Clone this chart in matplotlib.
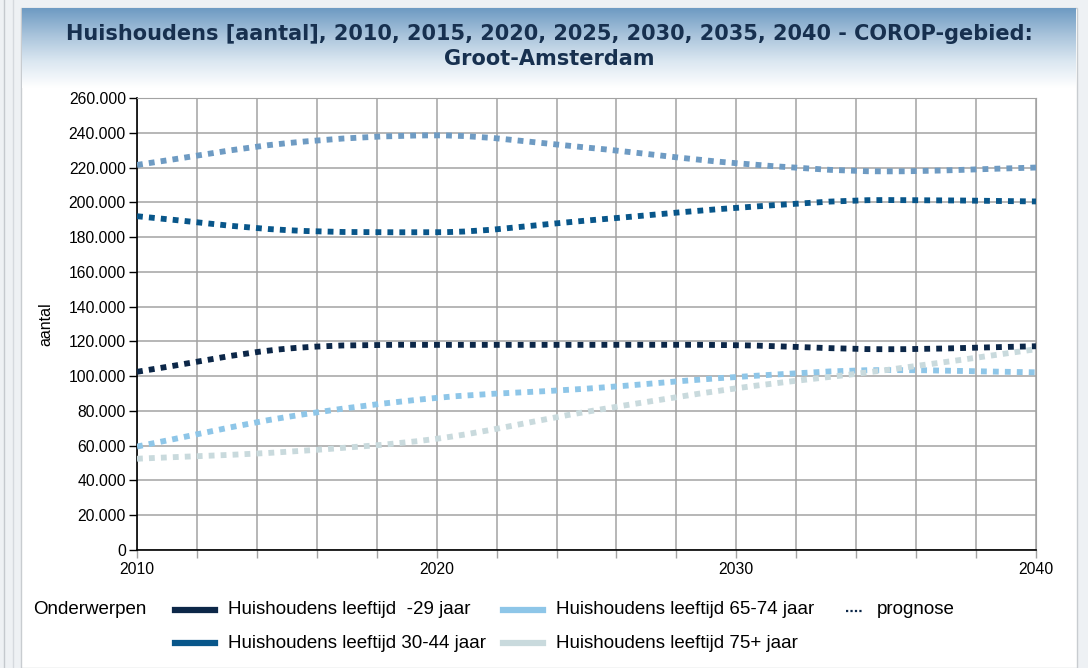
import matplotlib.pyplot as plt
import numpy as np
from matplotlib.path import Path
from matplotlib.patches import PathPatch, Rectangle
from matplotlib.lines import Line2D
from matplotlib.colors import LinearSegmentedColormap

# data
years = [2010, 2015, 2020, 2025, 2030, 2035, 2040]
hh_45_64 = [221500, 234000, 238500, 231500, 222500, 217800, 220000]
hh_30_44 = [192000, 184000, 182800, 189500, 196800, 201300, 200500]
hh_tm_29 = [102500, 115800, 118000, 118000, 117800, 115500, 117200]
hh_65_74 = [59500, 76500, 87500, 92800, 99500, 103500, 102200]
hh_75plus = [52500, 56500, 64000, 79500, 93000, 103500, 115500]

series = [
    (hh_45_64, '#6e9bc3'),
    (hh_30_44, '#08568a'),
    (hh_tm_29, '#0c2748'),
    (hh_65_74, '#8ec6e8'),
    (hh_75plus, '#c9dadd'),
]

legend_items = [
    ('Huishoudens leeftijd  -29 jaar', '#0c2748'),
    ('Huishoudens leeftijd 30-44 jaar', '#08568a'),
    ('Huishoudens leeftijd 65-74 jaar', '#8ec6e8'),
    ('Huishoudens leeftijd 75+ jaar', '#c9dadd'),
]

title = ('Huishoudens [aantal], 2010, 2015, 2020, 2025, 2030, 2035, 2040 - COROP-gebied:\n'
         'Groot-Amsterdam')


def smooth_path(x, y):
    # bezier path through the points (monotone tangents)
    x = np.asarray(x, float)
    y = np.asarray(y, float)
    d = np.diff(y) / np.diff(x)
    m = np.zeros_like(y)
    m[0], m[-1] = d[0], d[-1]
    for i in range(1, len(y) - 1):
        if d[i - 1] * d[i] > 0:
            m[i] = (d[i - 1] + d[i]) / 2
    verts = [(x[0], y[0])]
    codes = [Path.MOVETO]
    for i in range(len(x) - 1):
        h = x[i + 1] - x[i]
        verts += [(x[i] + h / 3, y[i] + m[i] * h / 3),
                  (x[i + 1] - h / 3, y[i + 1] - m[i + 1] * h / 3),
                  (x[i + 1], y[i + 1])]
        codes += [Path.CURVE4] * 3
    return Path(verts, codes)


plt.rcParams['font.family'] = ['Liberation Sans', 'DejaVu Sans']

W, H = 1088, 668
fig = plt.figure(figsize=(W / 100, H / 100), dpi=100)
fig.patch.set_facecolor('#eef1f4')

# white panel + header gradient
fig.add_artist(Rectangle((21 / W, 0), (1077 - 21) / W, 1 - 8 / H, transform=fig.transFigure,
                         facecolor='white', edgecolor='#c8ccd0', lw=1, zorder=0))
fig.add_artist(Line2D([4 / W, 4 / W], [0, 1], transform=fig.transFigure, color='#c5c9ce', lw=1))
fig.add_artist(Line2D([13 / W, 13 / W], [0, 1], transform=fig.transFigure, color='#d5d9de', lw=1))
grad = np.linspace(0, 1, 100).reshape(-1, 1)
gax = fig.add_axes([22 / W, 1 - 88 / H, (1076 - 22) / W, 80 / H], zorder=0)
cmap = LinearSegmentedColormap.from_list('hdr', ['#ffffff', '#dbe7f1', '#a8c3db', '#6e9bc3'])
gax.imshow(grad, cmap=cmap, aspect='auto', origin='lower', extent=[0, 1, 0, 1])
gax.axis('off')
fig.text(0.505, 1 - 46.5 / H, title, ha='center', va='center', fontsize=15,
         fontweight='bold', color='#17304f', family='DejaVu Sans', linespacing=1.3,
         zorder=5)

ax = fig.add_axes([137 / W, 1 - 550 / H, (1036 - 137) / W, (550 - 98) / H], zorder=2)
ax.set_facecolor('white')
for vals, col in series:
    ax.add_patch(PathPatch(smooth_path(years, vals), facecolor='none', edgecolor=col,
                           lw=4.2, linestyle=(0, (1, 1.05)), capstyle='butt', zorder=3))

ax.set_xlim(2010, 2040)
ax.set_ylim(0, 260000)
ax.set_xticks(np.arange(2010, 2041, 2))
ax.set_xticklabels([str(v) if v % 10 == 0 else '' for v in range(2010, 2041, 2)])
yt = np.arange(0, 260001, 20000)
ax.set_yticks(yt)
ax.set_yticklabels([f'{v:,}'.replace(',', '.') for v in yt])
ax.grid(True, color='#a3a3a3', lw=1.1)
ax.set_axisbelow(True)
for s in ['top', 'right']:
    ax.spines[s].set_color('#a3a3a3')
for s in ['left', 'bottom']:
    ax.spines[s].set_color('black')
    ax.spines[s].set_linewidth(1.2)
ax.tick_params(axis='both', labelsize=11.3, colors='black', length=6, width=1, pad=2)
ax.tick_params(axis='x', color='#a3a3a3', pad=3)
ax.set_ylabel('aantal', fontsize=11.5)
ax.yaxis.set_label_coords(-0.093, 0.5)

# legend
fig.text(33 / W, 1 - 610 / H, 'Onderwerpen', fontsize=13.5, va='center')
pos = [(175, 610), (175, 643), (503, 610), (503, 643)]
for (lab, col), (px, py) in zip(legend_items, pos):
    fig.add_artist(Line2D([px / W, (px + 40) / W], [1 - py / H, 1 - py / H],
                          transform=fig.transFigure, color=col, lw=4.5))
    fig.text((px + 53) / W, 1 - py / H, lab, fontsize=13.5, va='center')
fig.add_artist(Line2D([846 / W, 862 / W], [1 - 611 / H, 1 - 611 / H], transform=fig.transFigure,
                      color='#0c2748', lw=1.6, linestyle=(0, (1, 1))))
fig.text(877 / W, 1 - 610 / H, 'prognose', fontsize=13.5, va='center')

fig.savefig('out.png', dpi=100, facecolor=fig.get_facecolor())
